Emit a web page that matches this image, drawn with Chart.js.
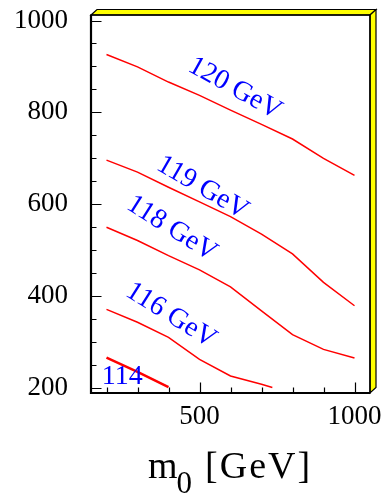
<!DOCTYPE html>
<html>
<head>
<meta charset="utf-8">
<script src="https://cdn.jsdelivr.net/npm/chart.js@4"></script>
<style>
  html, body { margin: 0; padding: 0; background: #ffffff; }
  #wrap { width: 389px; height: 495px; }
</style>
</head>
<body>
<div id="wrap"><canvas id="c" width="389" height="495"></canvas></div>
<script>
// Light Higgs mass contours in the (m0, m1/2) plane
const m0Grid   = [200, 300, 400, 500, 600, 700, 800, 900, 1000];
const higgs120 = [926, 899, 866, 837, 805, 774, 742, 700, 663];
const higgs119 = [696, 670, 637, 605, 573, 535, 492, 430, 379];
const higgs118 = [550, 521, 488, 457, 420, 368, 316, 284, 265];
const m0Mid    = [200, 300, 400, 500, 600, 700, 735];
const higgs116 = [371, 343, 310, 262, 226, 208, 201];
const m0Low    = [200, 300, 400];
const higgs114 = [266, 235, 202];

const xTickValues = [200, 300, 400, 500, 600, 700, 800, 900, 1000];
const xTickLabels = [500, 1000];
const yTickValues = [200, 250, 300, 350, 400, 450, 500, 550, 600, 650, 700, 750, 800, 850, 900, 950, 1000];
const yTickLabels = [200, 400, 600, 800, 1000];

const contourLabels = [
  { text: '120 GeV', m0: 614, m12: 852, angle: 29 },
  { text: '119 GeV', m0: 510, m12: 636, angle: 30 },
  { text: '118 GeV', m0: 411, m12: 547, angle: 32 },
  { text: '116 GeV', m0: 408, m12: 358, angle: 32 },
  { text: '114',     m0: 251, m12: 225, angle: 0 }
];

const SERIF = '"Liberation Serif", "DejaVu Serif", serif';
const RED = '#ff0000';
const BLUE = '#0000ff';

const toPoints = (xs, ys) => xs.map((x, i) => ({ x: x, y: ys[i] }));

function contour(xs, ys, width) {
  return {
    data: toPoints(xs, ys),
    showLine: true,
    borderColor: RED,
    borderWidth: width,
    pointRadius: 0,
    tension: 0,
    fill: false
  };
}

// Frame with 3D yellow rim, inward ticks, contour labels and axis title
const framePlugin = {
  id: 'frame',
  beforeDatasetsDraw(chart) {
    const { ctx, chartArea: a } = chart;
    const dx = 6, dy = 5.5;
    ctx.save();
    ctx.lineJoin = 'miter';
    ctx.fillStyle = '#ffff00';
    ctx.strokeStyle = '#000000';
    ctx.lineWidth = 1.2;
    // top rim
    ctx.beginPath();
    ctx.moveTo(a.left, a.top);
    ctx.lineTo(a.left + dx, a.top - dy);
    ctx.lineTo(a.right + dx, a.top - dy);
    ctx.lineTo(a.right, a.top);
    ctx.closePath();
    ctx.fill(); ctx.stroke();
    // right rim
    ctx.beginPath();
    ctx.moveTo(a.right, a.top);
    ctx.lineTo(a.right + dx, a.top - dy);
    ctx.lineTo(a.right + dx, a.bottom - dy);
    ctx.lineTo(a.right, a.bottom);
    ctx.closePath();
    ctx.fill(); ctx.stroke();
    // box outline
    ctx.lineWidth = 1.5;
    ctx.strokeRect(a.left, a.top, a.right - a.left, a.bottom - a.top);
    ctx.lineWidth = 2.2;
    ctx.beginPath();
    ctx.moveTo(a.left, a.top);
    ctx.lineTo(a.left, a.bottom);
    ctx.lineTo(a.right, a.bottom);
    ctx.stroke();

    // inward tick marks
    const xs = chart.scales.x, ys = chart.scales.y;
    ctx.lineWidth = 1.2;
    ctx.beginPath();
    xTickValues.forEach(v => {
      const px = Math.round(xs.getPixelForValue(v)) + 0.5;
      const len = xTickLabels.includes(v) ? 10.5 : 5.5;
      ctx.moveTo(px, a.bottom);
      ctx.lineTo(px, a.bottom - len);
    });
    yTickValues.forEach(v => {
      const py = Math.round(ys.getPixelForValue(v)) + 0.5;
      const len = yTickLabels.includes(v) ? 10.5 : 5.5;
      ctx.moveTo(a.left, py);
      ctx.lineTo(a.left + len, py);
    });
    ctx.stroke();
    ctx.restore();
  },
  afterDatasetsDraw(chart) {
    const { ctx } = chart;
    const xs = chart.scales.x, ys = chart.scales.y;
    ctx.save();
    ctx.fillStyle = BLUE;
    ctx.font = '28px ' + SERIF;
    ctx.textAlign = 'center';
    ctx.textBaseline = 'middle';
    contourLabels.forEach(l => {
      ctx.save();
      ctx.translate(xs.getPixelForValue(l.m0), ys.getPixelForValue(l.m12));
      ctx.rotate(l.angle * Math.PI / 180);
      ctx.fillText(l.text, 0, 0);
      ctx.restore();
    });

    // x-axis title: m0 [GeV] with subscript
    ctx.fillStyle = '#000000';
    ctx.textAlign = 'left';
    ctx.textBaseline = 'alphabetic';
    const big = '38px ' + SERIF, small = '31px ' + SERIF;
    let x = 148, base = 478;
    ctx.font = big;
    ctx.fillText('m', x, base);
    x += ctx.measureText('m').width - 1;
    ctx.font = small;
    ctx.fillText('0', x, base + 15);
    x += ctx.measureText('0').width + 13;
    ctx.font = big;
    if ('letterSpacing' in ctx) ctx.letterSpacing = '2px';
    ctx.fillText('[GeV]', x, base);
    ctx.restore();
  }
};

new Chart(document.getElementById('c'), {
  type: 'scatter',
  data: {
    datasets: [
      contour(m0Grid, higgs120, 1.5),
      contour(m0Grid, higgs119, 1.5),
      contour(m0Grid, higgs118, 1.5),
      contour(m0Mid, higgs116, 1.5),
      contour(m0Low, higgs114, 2.5)
    ]
  },
  options: {
    responsive: false,
    animation: false,
    devicePixelRatio: 1,
    layout: { padding: { top: 15, right: 19, left: 0, bottom: 0 } },
    plugins: { legend: { display: false }, tooltip: { enabled: false } },
    scales: {
      x: {
        type: 'linear',
        min: 150,
        max: 1050,
        grid: { display: false, drawTicks: false },
        border: { display: false },
        afterBuildTicks: s => { s.ticks = xTickLabels.map(v => ({ value: v })); },
        afterFit: s => { s.height = 102; s.paddingLeft = 0; s.paddingRight = 0; },
        ticks: {
          color: '#000000',
          font: { family: SERIF, size: 27 },
          padding: 8,
          maxRotation: 0,
          autoSkip: false,
          callback: v => String(v)
        }
      },
      y: {
        type: 'linear',
        min: 189,
        max: 1012,
        grid: { display: false, drawTicks: false },
        border: { display: false },
        afterBuildTicks: s => { s.ticks = yTickLabels.map(v => ({ value: v })); },
        afterFit: s => { s.width = 91; s.paddingTop = 0; s.paddingBottom = 0; },
        ticks: {
          color: '#000000',
          font: { family: SERIF, size: 27 },
          padding: 23,
          autoSkip: false,
          callback: v => String(v)
        }
      }
    }
  },
  plugins: [framePlugin]
});
</script>
</body>
</html>
